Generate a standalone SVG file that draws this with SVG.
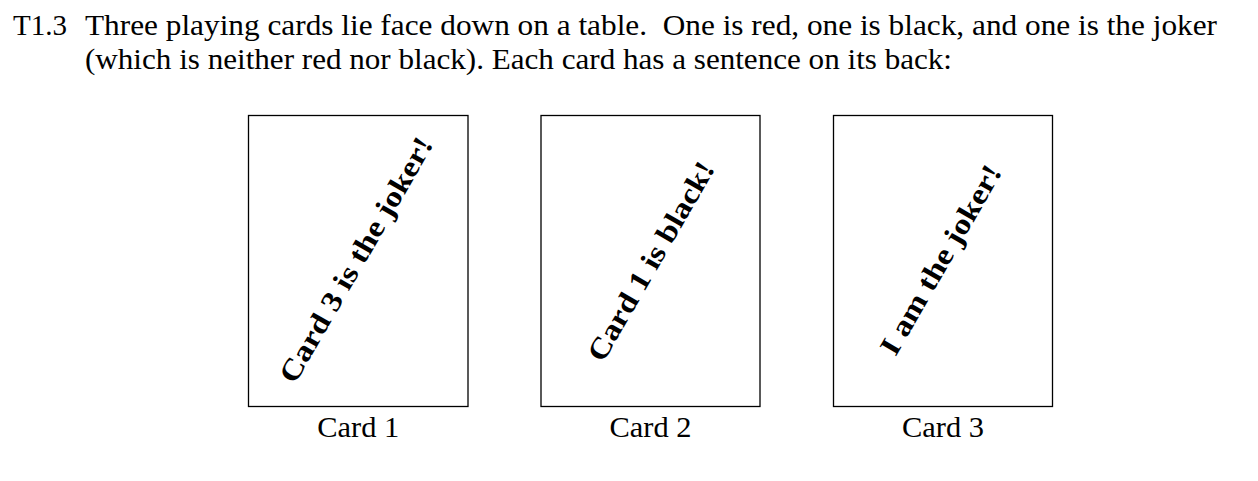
<svg xmlns="http://www.w3.org/2000/svg" width="1258" height="481" viewBox="0 0 1258 481">
<style>
  .body { font-family: "Liberation Serif", "Times New Roman", serif; font-size: 29.5px; fill: #000; }
  .card { fill: #fff; stroke: #000; stroke-width: 1.3; }
  .back { font-family: "Liberation Serif", "Times New Roman", serif; font-size: 29px; font-weight: bold; fill: #000; text-anchor: middle; }
  .label { font-family: "Liberation Serif", "Times New Roman", serif; font-size: 29.5px; fill: #000; text-anchor: middle; }
</style>
<rect width="1258" height="481" fill="#fff"/>
<g id="header">
  <text class="body" x="13" y="35" textLength="54" lengthAdjust="spacingAndGlyphs">T1.3</text>
  <text class="body" x="85" y="35" textLength="1132" lengthAdjust="spacingAndGlyphs">Three playing cards lie face down on a table.&#160; One is red, one is black, and one is the joker</text>
  <text class="body" x="85" y="69" textLength="867" lengthAdjust="spacingAndGlyphs">(which is neither red nor black). Each card has a sentence on its back:</text>
</g>
<g id="card1">
  <rect class="card" x="248.5" y="115.5" width="219.5" height="291"/>
  <text class="back" transform="translate(358.25,261) rotate(-60)" x="0" y="7" textLength="278" lengthAdjust="spacingAndGlyphs">Card 3 is the joker!</text>
  <text class="label" x="358.25" y="437" textLength="82" lengthAdjust="spacingAndGlyphs">Card 1</text>
</g>
<g id="card2">
  <rect class="card" x="541" y="115.5" width="219" height="291"/>
  <text class="back" transform="translate(650.5,261) rotate(-60)" x="0" y="10" textLength="225" lengthAdjust="spacingAndGlyphs">Card 1 is black!</text>
  <text class="label" x="650.5" y="437" textLength="82" lengthAdjust="spacingAndGlyphs">Card 2</text>
</g>
<g id="card3">
  <rect class="card" x="833.5" y="115.5" width="219" height="291"/>
  <text class="back" transform="translate(943,261) rotate(-60)" x="0" y="7" textLength="214" lengthAdjust="spacingAndGlyphs">I am the joker!</text>
  <text class="label" x="943" y="437" textLength="82" lengthAdjust="spacingAndGlyphs">Card 3</text>
</g>
<g id="connectors"></g>
</svg>
